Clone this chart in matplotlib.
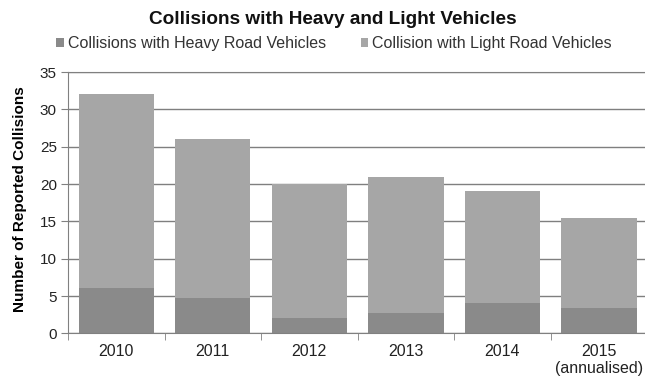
import numpy as np
import matplotlib.pyplot as plt

# values
years = ['2010', '2011', '2012', '2013', '2014', '2015\n(annualised)']
heavy = [6.1, 4.8, 2.0, 2.7, 4.1, 3.4]
total = [32, 26, 20, 21, 19, 15.5]
light = [t - h for t, h in zip(total, heavy)]

plt.rcParams['font.family'] = ['Liberation Sans', 'DejaVu Sans']

fig = plt.figure(figsize=(6.45, 3.81), dpi=100)
ax = fig.add_axes([0.1054, 0.125, 0.898, 0.686])

x = np.arange(len(years))
ax.bar(x, heavy, width=0.78, color='#8a8a8a', label='Collisions with Heavy Road Vehicles', zorder=2)
ax.bar(x, light, width=0.78, bottom=heavy, color='#a6a6a6', label='Collision with Light Road Vehicles', zorder=2)

ax.set_xlim(-0.5, len(years) - 0.5)
ax.set_ylim(0, 35)
ax.set_yticks(range(0, 36, 5))
ax.set_xticks(x)
ax.set_xticklabels(years, fontsize=11.5, color='#222222', linespacing=1.15)
ax.set_xticks(np.arange(-0.5, len(years), 1), minor=True)
ax.tick_params(axis='x', which='major', length=0, pad=8)
ax.tick_params(axis='x', which='minor', length=5, color='#808080')
ax.tick_params(axis='y', length=5, color='#808080', labelsize=11, labelcolor='#222222', pad=3)

ax.grid(axis='y', color='#7f7f7f', linewidth=1, zorder=0)
for side in ['left', 'bottom', 'top']:
    ax.spines[side].set_color('#808080')
ax.spines['right'].set_visible(False)

ax.set_ylabel('Number of Reported Collisions', fontsize=11, fontweight='bold')
ax.yaxis.set_label_coords(-0.071, 0.515)

fig.text(0.516, 0.95, 'Collisions with Heavy and Light Vehicles', ha='center', va='center',
         fontsize=13.7, fontweight='bold', color='#111111')
fig.legend(loc='center', bbox_to_anchor=(0.518, 0.885), ncol=2, frameon=False, fontsize=11.5,
           handlelength=0.45, handleheight=0.45, handletextpad=0.25, columnspacing=2.2,
           labelcolor='#333333')

fig.savefig('out.png', dpi=100)
